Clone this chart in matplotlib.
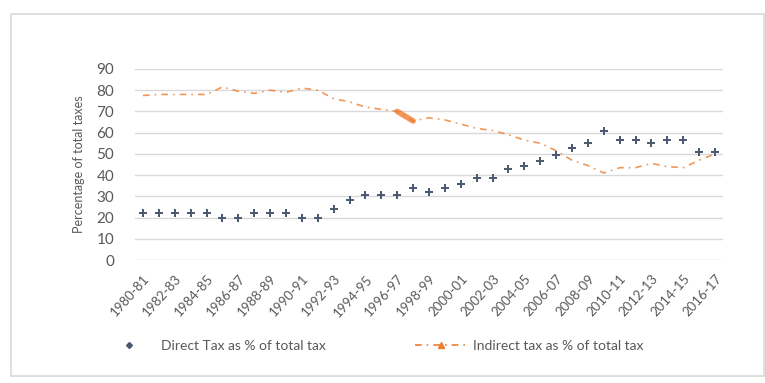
import numpy as np
import matplotlib
matplotlib.use("Agg")
import matplotlib.pyplot as plt
from matplotlib.lines import Line2D
from matplotlib.patches import Rectangle

plt.rcParams['font.family'] = ['Lato', 'DejaVu Sans']

years = ['1980-81', '1981-82', '1982-83', '1983-84', '1984-85', '1985-86',
         '1986-87', '1987-88', '1988-89', '1989-90', '1990-91', '1991-92',
         '1992-93', '1993-94', '1994-95', '1995-96', '1996-97', '1997-98',
         '1998-99', '1999-00', '2000-01', '2001-02', '2002-03', '2003-04',
         '2004-05', '2005-06', '2006-07', '2007-08', '2008-09', '2009-10',
         '2010-11', '2011-12', '2012-13', '2013-14', '2014-15', '2015-16',
         '2016-17']

direct_tax = [22, 22, 22, 22, 22, 20, 20, 22, 22, 22, 20, 20,
              24, 28.5, 30.5, 30.5, 30.5, 34, 32, 34, 36, 38.8, 38.8, 42.7,
              44.5, 46.5, 49.3, 52.7, 55, 61, 56.5, 56.5, 55, 56.5, 56.5,
              51, 51]

indirect_tax = [77.5, 78, 78, 78, 78, 81.5, 79.5, 78.5, 80, 79, 81, 80,
                76, 74.5, 72, 71, 70, 65.5, 67, 66, 64, 62, 61, 59,
                56.5, 55, 51.5, 47, 44.5, 41, 43.5, 43.5, 45.5, 44, 43.5,
                47, 50]

blue = '#4a5870'
orange = '#ed7d31'
grey_txt = '#595959'
dash_pat = (4, 3, 1, 3)

fig = plt.figure(figsize=(7.65, 3.83), dpi=100)
ax = fig.add_axes([0.1765, 0.321, 0.7686, 0.499])

x = np.arange(len(years))

ax.plot(x, indirect_tax, color=orange, lw=1.2, alpha=0.8, dashes=dash_pat, zorder=3)
# heavier stretch around 1996-97 / 1997-98
ax.plot(x[16:18], indirect_tax[16:18], color=orange, lw=4, alpha=0.8,
        solid_capstyle='round', zorder=3)
ax.plot(x, direct_tax, ls='none', marker='+', ms=5.5, mew=1.4, color=blue, zorder=4)

ax.set_xlim(-0.5, len(years) - 0.5)
ax.set_ylim(0, 90)
ax.set_yticks(range(0, 91, 10))
ax.yaxis.grid(True, color='#d9d9d9', lw=1)
ax.set_axisbelow(True)
for s in ax.spines.values():
    s.set_visible(False)
ax.tick_params(length=0, colors=grey_txt)
ax.tick_params(axis='y', labelsize=11, pad=15)

ax.set_xticks(x[::2])
ax.set_xticklabels(years[::2], rotation=48, ha='right', rotation_mode='anchor',
                   fontsize=9.5, color=grey_txt)
ax.tick_params(axis='x', pad=9)

ax.set_ylabel('Percentage of total taxes', fontsize=9, color=grey_txt, labelpad=8)

handles = [
    Line2D([], [], ls='none', marker='D', ms=3, color=blue),
    Line2D([], [], color=orange, lw=1.2, dashes=dash_pat, marker='^', ms=4),
]
fig.legend(handles, ['Direct Tax as % of total tax', 'Indirect tax as % of total tax'],
           loc='center', bbox_to_anchor=(0.488, 0.097), ncol=2, frameon=False,
           fontsize=10, labelcolor=grey_txt, handlelength=3.7, columnspacing=6.4,
           handletextpad=0.5)

fig.patches.append(Rectangle((0.0144, 0.018), 0.984, 0.945, transform=fig.transFigure,
                             fill=False, edgecolor='#d9d9d9', lw=1.2))

fig.savefig('out.png', dpi=100)
